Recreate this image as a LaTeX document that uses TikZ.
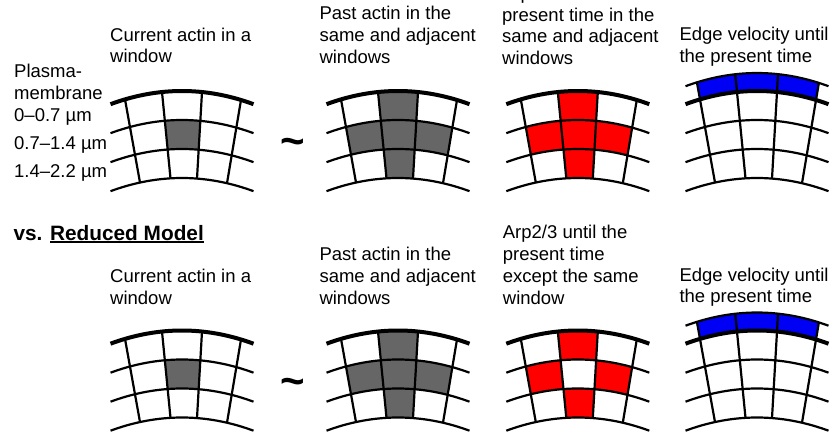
\documentclass[tikz,border=0pt]{standalone}
\usepackage{fontspec}
\setmainfont{Liberation Sans}
\begin{document}
\begin{tikzpicture}[x=1pt,y=-1pt,
  thinline/.style={line width=2.2pt},
  thickline/.style={line width=4pt},
  % multi-line labels are placed by the baseline of their last line
  lbl/.style={anchor=base west, align=left, inner sep=0pt,
    font=\fontsize{18.5}{21.7}\selectfont},
  tildesign/.style={anchor=base, inner sep=0pt, font=\fontsize{42}{42}\bfseries\selectfont},
  cellgray/.style={fill={rgb,255:red,102;green,102;blue,102}},
  cellred/.style={fill={rgb,255:red,255;green,0;blue,0}},
  cellblue/.style={fill={rgb,255:red,0;green,0;blue,245}}]

% y offset of the curved grid line at level v (0 = membrane, 3 = innermost)
\pgfmathdeclarefunction{arcy}{2}{\pgfmathparse{29*#2+13*(#1/71)*(#1/71)}}
% x of the four radial lines at the membrane and at the innermost arc
\def\topx{{-57,-20,20,59}}
\def\botx{{-42,-11.5,15,45}}

% fill one window: style, column (0..2), upper level, lower level
\newcommand\gcell[4]{%
  \pgfmathsetmacro\gxla{\topx[#2]+(\botx[#2]-\topx[#2])*(#3)/3}%
  \pgfmathsetmacro\gxra{\topx[#2+1]+(\botx[#2+1]-\topx[#2+1])*(#3)/3}%
  \pgfmathsetmacro\gxlb{\topx[#2]+(\botx[#2]-\topx[#2])*(#4)/3}%
  \pgfmathsetmacro\gxrb{\topx[#2+1]+(\botx[#2+1]-\topx[#2+1])*(#4)/3}%
  \path[#1] plot[domain=\gxla:\gxra, samples=12] (\x,{arcy(\x,#3)})
    -- plot[domain=\gxrb:\gxlb, samples=12] (\x,{arcy(\x,#4)}) -- cycle;}

% grid lines; #1 = level where the radial lines start
\newcommand\ggrid[1]{%
  \foreach \k in {1,2,3}
    \draw[thinline] plot[domain=-71.5:71.5, samples=40] (\x,{arcy(\x,\k)});
  \foreach \j in {0,1,2,3} {
    \pgfmathsetmacro\gxa{\topx[\j]+(\botx[\j]-\topx[\j])*(#1)/3}
    \pgfmathsetmacro\gxb{\botx[\j]}
    \draw[thinline] (\gxa,{arcy(\gxa,#1)}) -- (\gxb,{arcy(\gxb,3)});
  }
  \draw[thickline] plot[domain=-71.5:71.5, samples=40] (\x,{arcy(\x,0)});}

\useasboundingbox (0,0) rectangle (833,437);
\fill[white] (0,0) rectangle (833,437);

% ---------------- full model ----------------
\node[lbl] (plasma) at (14,99.3) {Plasma-\\membrane};
\node[lbl] (r1) at (14,121.7) {0–0.7 µm};
\node[lbl] (r2) at (14,149.3) {0.7–1.4 µm};
\node[lbl] (r3) at (14,177.3) {1.4–2.2 µm};

\node[lbl] (cur1) at (110,62.7) {Current actin in a\\window};
\node[lbl] (past1) at (319.3,63) {Past actin in the\\same and adjacent\\windows};
\node[lbl] (arp1) at (502,64.5) {Arp2/3 until the\\present time in the\\same and adjacent\\windows};
\node[lbl] (edge1) at (679.3,62.5) {Edge velocity until\\the present time};

\node[tildesign] (tilde1) at (292.5,155) {\char"7E};

\begin{scope}[shift={(182,91)}]
  \gcell{cellgray}{1}{1}{2}
  \ggrid{0}
\end{scope}
\begin{scope}[shift={(398,91)}]
  \gcell{cellgray}{1}{0}{1}\gcell{cellgray}{1}{1}{2}\gcell{cellgray}{1}{2}{3}
  \gcell{cellgray}{0}{1}{2}\gcell{cellgray}{2}{1}{2}
  \ggrid{0}
\end{scope}
\begin{scope}[shift={(577.8,91)}]
  \gcell{cellred}{1}{0}{1}\gcell{cellred}{1}{1}{2}\gcell{cellred}{1}{2}{3}
  \gcell{cellred}{0}{1}{2}\gcell{cellred}{2}{1}{2}
  \ggrid{0}
\end{scope}
\begin{scope}[shift={(757,91)}]
  \gcell{cellblue}{0}{-0.62}{0}\gcell{cellblue}{1}{-0.62}{0}\gcell{cellblue}{2}{-0.62}{0}
  \draw[thinline] plot[domain=-71.5:71.5, samples=40] (\x,{arcy(\x,-0.62)});
  \ggrid{-0.62}
\end{scope}

% ---------------- reduced model ----------------
\node[lbl, font=\fontsize{20.8}{22}\bfseries\selectfont] (vs) at (13.3,240)
  {vs. \setbox0\hbox{Reduced Model}\rlap{\rule[-3pt]{\wd0}{1.6pt}}\box0};

\node[lbl] (cur2) at (110,304) {Current actin in a\\window};
\node[lbl] (past2) at (319.3,304) {Past actin in the\\same and adjacent\\windows};
\node[lbl] (arp2) at (502.7,304) {Arp2/3 until the\\present time\\except the same\\window};
\node[lbl] (edge2) at (679.3,302.7) {Edge velocity until\\the present time};

\node[tildesign] (tilde2) at (292.5,395) {\char"7E};

\begin{scope}[shift={(182,330.5)}]
  \gcell{cellgray}{1}{1}{2}
  \ggrid{0}
\end{scope}
\begin{scope}[shift={(398,330.5)}]
  \gcell{cellgray}{1}{0}{1}\gcell{cellgray}{1}{1}{2}\gcell{cellgray}{1}{2}{3}
  \gcell{cellgray}{0}{1}{2}\gcell{cellgray}{2}{1}{2}
  \ggrid{0}
\end{scope}
\begin{scope}[shift={(577.8,330.5)}]
  \gcell{cellred}{1}{0}{1}\gcell{cellred}{1}{2}{3}
  \gcell{cellred}{0}{1}{2}\gcell{cellred}{2}{1}{2}
  \ggrid{0}
\end{scope}
\begin{scope}[shift={(757,330.5)}]
  \gcell{cellblue}{0}{-0.62}{0}\gcell{cellblue}{1}{-0.62}{0}\gcell{cellblue}{2}{-0.62}{0}
  \draw[thinline] plot[domain=-71.5:71.5, samples=40] (\x,{arcy(\x,-0.62)});
  \ggrid{-0.62}
\end{scope}
\end{tikzpicture}
\end{document}
